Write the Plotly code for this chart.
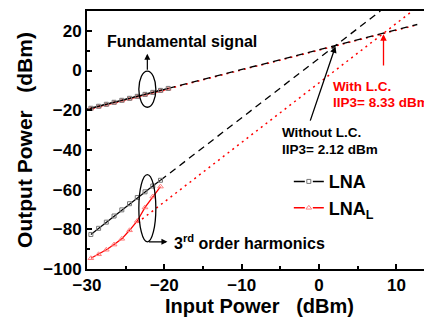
import plotly.graph_objects as go

# ---- data ----
pin_fund = [-29.5, -28.5, -27.5, -26.5, -25.5, -24.5, -23.5, -22.5, -21.5, -20.5, -19.5]
lna_fund = [-19.0, -18.0, -17.0, -16.0, -15.0, -14.0, -13.0, -12.0, -11.0, -10.0, -9.0]
lnal_fund = [-19.2, -18.2, -17.2, -16.2, -15.2, -14.2, -13.2, -12.2, -11.2, -10.2, -9.2]

pin_im3 = [-29.5, -28.5, -27.5, -26.5, -25.5, -24.5, -23.5, -22.5, -21.5, -20.5]
lna_im3 = [-82.6, -79.5, -76.4, -73.3, -70.2, -67.1, -64.0, -61.1, -58.2, -55.3]
lnal_im3 = [-94.6, -92.6, -90.3, -87.7, -84.8, -80.5, -75.8, -69.0, -63.5, -58.5]

# extrapolation lines
ext_fund_x = [-30.0, 12.7]
lna_fund_ext = [-19.5, 23.2]
lnal_fund_ext = [-19.7, 23.0]
lna_im3_ext_x = [-20.5, 7.93]
lna_im3_ext = [-55.3, 30.0]
lnal_im3_ext_x = [-23.5, 12.07]
lnal_im3_ext = [-76.7, 30.0]

iip3_lna = 2.12
iip3_lnal = 8.33
iip3_lna_out = 12.2
iip3_lnal_out = 18.3

x_ticks = [-30, -20, -10, 0, 10]
y_ticks = [-100, -80, -60, -40, -20, 0, 20]

FONT = "Arial, Liberation Sans, sans-serif"
RED = "#ff0000"
NB = "\u00a0"

fig = go.Figure()

# extrapolations
fig.add_trace(go.Scatter(x=ext_fund_x, y=lnal_fund_ext, mode="lines",
                         line=dict(color=RED, width=1.5, dash="2px,4px"), showlegend=False))
fig.add_trace(go.Scatter(x=ext_fund_x, y=lna_fund_ext, mode="lines",
                         line=dict(color="black", width=1.3, dash="7px,5px"), showlegend=False))
fig.add_trace(go.Scatter(x=lnal_im3_ext_x, y=lnal_im3_ext, mode="lines",
                         line=dict(color=RED, width=1.5, dash="2px,4px"), showlegend=False))
fig.add_trace(go.Scatter(x=lna_im3_ext_x, y=lna_im3_ext, mode="lines",
                         line=dict(color="black", width=1.3, dash="7px,5px"), showlegend=False))

sq = dict(symbol="square-open", size=4, color="#777777", line=dict(width=1))
tri = dict(symbol="triangle-up-open", size=5, color="#ff8080", line=dict(width=1))

# measured data
fig.add_trace(go.Scatter(x=pin_fund, y=lnal_fund, mode="lines+markers", showlegend=False,
                         line=dict(color=RED, width=1.3), marker=tri))
fig.add_trace(go.Scatter(x=pin_fund, y=lna_fund, mode="lines+markers", showlegend=False,
                         line=dict(color="black", width=1.3), marker=sq))
fig.add_trace(go.Scatter(x=pin_im3, y=lna_im3, mode="lines+markers", showlegend=False,
                         line=dict(color="black", width=1.3), marker=sq))
fig.add_trace(go.Scatter(x=pin_im3, y=lnal_im3, mode="lines+markers", showlegend=False,
                         line=dict(color=RED, width=1.3), marker=tri))

# legend entries (line - marker - line style)
fig.add_trace(go.Scatter(x=[None], y=[None], mode="lines+markers", name="LNA",
                         line=dict(color="black", width=1.5, dash="11px,8px,11px"), marker=sq))
fig.add_trace(go.Scatter(x=[None], y=[None], mode="lines+markers", name="LNA<sub>L</sub>",
                         line=dict(color=RED, width=1.5, dash="11px,8px,11px"), marker=tri))

shapes = [
    dict(type="circle", xref="x", yref="y", x0=-23.3, x1=-21.1, y0=-18.5, y1=-0.3,
         line=dict(color="black", width=1.3)),
    dict(type="circle", xref="x", yref="y", x0=-23.3, x1=-21.1, y0=-86.3, y1=-52.4,
         line=dict(color="black", width=1.3)),
]

ann_font = dict(family=FONT, size=13.5, color="black", weight="bold")
red_font = dict(family=FONT, size=13.5, color=RED, weight="bold")
annotations = [
    dict(x=-27.7, y=14.5, xref="x", yref="y", text="Fundamental signal", showarrow=False,
         xanchor="left", yanchor="middle", font=dict(family=FONT, size=16, color="black", weight="bold")),
    # arrow up from fundamental ellipse
    dict(x=-22.2, y=8.5, ax=-22.2, ay=-0.3, xref="x", yref="y", axref="x", ayref="y",
         text="", showarrow=True, arrowhead=2, arrowsize=1, arrowwidth=1.2, arrowcolor="black"),
    # arrow right from 3rd ellipse
    dict(x=-19.6, y=-86.3, ax=-22.2, ay=-86.3, xref="x", yref="y", axref="x", ayref="y",
         text="", showarrow=True, arrowhead=2, arrowsize=1, arrowwidth=1.2, arrowcolor="black"),
    dict(x=-19.0, y=-86.3, xref="x", yref="y", text="3<sup>rd</sup> order harmonics", showarrow=False,
         xanchor="left", yanchor="middle", font=dict(family=FONT, size=16, color="black", weight="bold")),
    # Without L.C.
    dict(x=iip3_lna, y=iip3_lna_out, ax=-1.2, ay=-26.0, xref="x", yref="y", axref="x", ayref="y",
         text="", showarrow=True, arrowhead=2, arrowsize=1, arrowwidth=1.3, arrowcolor="black"),
    dict(x=-5.0, y=-31.2, xref="x", yref="y", text="Without L.C.", showarrow=False,
         xanchor="left", yanchor="middle", font=ann_font),
    dict(x=-5.0, y=-39.8, xref="x", yref="y", text=f"IIP3= {iip3_lna:.2f} dBm", showarrow=False,
         xanchor="left", yanchor="middle", font=ann_font),
    # With L.C.
    dict(x=iip3_lnal, y=iip3_lnal_out, ax=iip3_lnal, ay=1.8, xref="x", yref="y", axref="x", ayref="y",
         text="", showarrow=True, arrowhead=2, arrowsize=1, arrowwidth=1.3, arrowcolor=RED),
    dict(x=1.6, y=-7.8, xref="x", yref="y", text="With L.C.", showarrow=False,
         xanchor="left", yanchor="middle", font=red_font),
    dict(x=1.6, y=-16.0, xref="x", yref="y", text=f"IIP3= {iip3_lnal:.2f} dBm", showarrow=False,
         xanchor="left", yanchor="middle", font=red_font),
]

# page body has an 8px margin, so the figure is sized to the visible area
fig.update_layout(
    width=424, height=313,
    margin=dict(l=79, r=0, t=3, b=52, autoexpand=False),
    paper_bgcolor="white", plot_bgcolor="white",
    font=dict(family=FONT, color="black"),
    shapes=shapes, annotations=annotations,
    legend=dict(x=0.585, y=0.41, xanchor="left", yanchor="top", bgcolor="rgba(0,0,0,0)",
                font=dict(family=FONT, size=18, color="black", weight="bold"),
                tracegroupgap=0, itemwidth=30),
    xaxis=dict(range=[-30, 14.6], tickvals=x_ticks, ticks="inside", ticklen=5, tickwidth=2,
               tickcolor="black", showline=True, linecolor="black", linewidth=2, mirror=True,
               showgrid=False, zeroline=False, automargin=False,
               minor=dict(dtick=5, tick0=-30, ticks="inside", ticklen=3, tickwidth=1.5, tickcolor="black"),
               tickfont=dict(family=FONT, size=17, color="black", weight="bold"),
               title=dict(text=f"Input Power{NB}{NB}{NB}(dBm)", standoff=2,
                          font=dict(family=FONT, size=20, color="black", weight="bold"))),
    yaxis=dict(range=[-100, 30], tickvals=y_ticks, ticks="inside", ticklen=5, tickwidth=2,
               tickcolor="black", showline=True, linecolor="black", linewidth=2, mirror=False,
               showgrid=False, zeroline=False, automargin=False,
               minor=dict(dtick=10, tick0=-100, ticks="inside", ticklen=3, tickwidth=1.5, tickcolor="black"),
               tickfont=dict(family=FONT, size=17, color="black", weight="bold"),
               title=dict(text=f"Output Power{NB}{NB}{NB}(dBm)", standoff=5,
                          font=dict(family=FONT, size=21, color="black", weight="bold"))),
)

fig.write_html("out.html")
